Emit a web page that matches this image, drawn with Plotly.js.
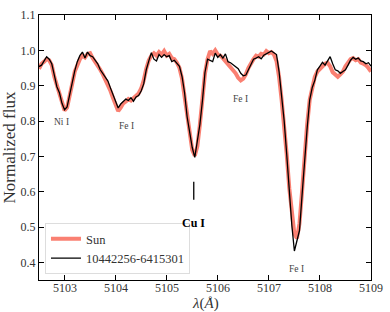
<!DOCTYPE html>
<html>
<head>
<meta charset="utf-8">
<script src="https://cdn.plot.ly/plotly-3.0.1.min.js"></script>
<style>html,body{margin:0;padding:0;background:#fff;}#chart{width:390px;height:312px;}</style>
</head>
<body>
<div id="chart"></div>
<script>
const wavelength = [
5102.50,5102.55,5102.60,5102.65,5102.70,5102.75,5102.80,5102.85,5102.90,5102.95,
5103.00,5103.05,5103.10,5103.15,5103.20,5103.25,5103.30,5103.35,5103.40,5103.45,
5103.50,5103.55,5103.60,5103.65,5103.70,5103.75,5103.80,5103.85,5103.90,5103.95,
5104.00,5104.05,5104.10,5104.15,5104.20,5104.25,5104.30,5104.35,5104.40,5104.45,
5104.50,5104.55,5104.60,5104.65,5104.70,5104.75,5104.80,5104.85,5104.90,5104.95,
5105.00,5105.05,5105.10,5105.15,5105.20,5105.25,5105.30,5105.35,5105.40,5105.45,
5105.50,5105.55,5105.60,5105.65,5105.70,5105.75,5105.80,5105.85,5105.90,5105.95,
5106.00,5106.05,5106.10,5106.15,5106.20,5106.25,5106.30,5106.35,5106.40,5106.45,
5106.50,5106.55,5106.60,5106.65,5106.70,5106.75,5106.80,5106.85,5106.90,5106.95,
5107.00,5107.05,5107.10,5107.15,5107.20,5107.25,5107.30,5107.35,5107.40,5107.45,
5107.50,5107.55,5107.60,5107.65,5107.70,5107.75,5107.80,5107.85,5107.90,5107.95,
5108.00,5108.05,5108.10,5108.15,5108.20,5108.25,5108.30,5108.35,5108.40,5108.45,
5108.50,5108.55,5108.60,5108.65,5108.70,5108.75,5108.80,5108.85,5108.90,5108.95,
5109.00];

const sunFlux = [
0.948,0.962,0.968,0.975,0.972,0.958,0.925,0.900,0.872,0.845,
0.830,0.838,0.868,0.905,0.940,0.962,0.975,0.985,0.980,0.990,
0.992,0.978,0.968,0.955,0.945,0.932,0.918,0.905,0.885,0.865,
0.845,0.828,0.838,0.850,0.855,0.862,0.858,0.865,0.870,0.878,
0.892,0.915,0.948,0.972,0.985,0.992,0.985,0.995,0.988,0.998,
0.985,0.990,0.978,0.975,0.965,0.950,0.920,0.870,0.812,0.760,
0.718,0.702,0.728,0.790,0.865,0.935,0.975,0.998,0.990,1.000,
0.988,0.985,0.978,0.970,0.960,0.952,0.945,0.935,0.922,0.915,
0.920,0.932,0.950,0.965,0.975,0.985,0.982,0.990,0.988,0.998,
0.992,0.995,0.988,0.970,0.925,0.860,0.790,0.705,0.610,0.530,
0.480,0.468,0.510,0.600,0.700,0.790,0.860,0.900,0.925,0.940,
0.948,0.955,0.962,0.965,0.955,0.938,0.930,0.925,0.932,0.940,
0.955,0.965,0.975,0.978,0.972,0.975,0.965,0.962,0.958,0.950,
0.940];

const starFlux = [
0.954,0.958,0.970,0.982,0.975,0.962,0.930,0.897,0.880,0.850,
0.832,0.840,0.874,0.910,0.942,0.968,0.985,0.995,0.978,0.995,
0.985,0.982,0.972,0.962,0.945,0.935,0.925,0.913,0.893,0.876,
0.855,0.837,0.848,0.855,0.862,0.858,0.866,0.856,0.868,0.872,
0.885,0.905,0.945,0.970,0.993,0.975,0.970,0.988,0.980,0.988,
0.982,0.985,0.968,0.972,0.962,0.955,0.926,0.880,0.812,0.765,
0.725,0.697,0.740,0.790,0.858,0.938,0.975,0.972,0.968,0.992,
0.980,0.988,0.978,0.990,0.968,0.965,0.960,0.955,0.948,0.935,
0.928,0.930,0.945,0.962,0.975,0.978,0.982,0.976,0.986,0.990,
0.995,0.998,0.993,0.988,0.940,0.870,0.800,0.705,0.600,0.505,
0.432,0.465,0.490,0.590,0.690,0.780,0.860,0.895,0.915,0.945,
0.955,0.966,0.958,0.970,0.982,0.962,0.945,0.942,0.935,0.940,
0.945,0.958,0.972,0.980,0.975,0.978,0.970,0.968,0.962,0.965,
0.955];

const lineLabels = ['Ni I', 'Fe I', 'Fe I', 'Fe I'];
const lineLabelX = [5102.95, 5104.22, 5106.44, 5107.54];
const lineLabelY = [0.797, 0.786, 0.862, 0.381];
const markText = '<b>Cu I</b>';
const markX = 5105.53;
const markLabelY = 0.512;
const markLineY = [0.577, 0.628];
const xTicks = [5103, 5104, 5105, 5106, 5107, 5108, 5109];
const yTicks = [0.4, 0.5, 0.6, 0.7, 0.8, 0.9, 1.0, 1.1];
const xTitle = '<i>λ</i>(<i>Å</i>)';
const yTitle = 'Normalized flux';

const serif = 'Liberation Serif, Times New Roman, serif';

const traces = [
  {x: wavelength, y: sunFlux, type: 'scatter', mode: 'lines', name: 'Sun',
   line: {color: '#fa8072', width: 4}},
  {x: wavelength, y: starFlux, type: 'scatter', mode: 'lines', name: '10442256-6415301',
   line: {color: '#000000', width: 1.3}},
  {x: [markX, markX], y: markLineY, type: 'scatter', mode: 'lines', showlegend: false,
   line: {color: '#000000', width: 1.3}, hoverinfo: 'skip'}
];

const annotations = lineLabels.map((t, i) => ({
  x: lineLabelX[i], y: lineLabelY[i], xref: 'x', yref: 'y', text: t, showarrow: false,
  font: {family: serif, size: 9.5, color: '#444'}
}));
annotations.push({x: markX, y: markLabelY, xref: 'x', yref: 'y', text: markText, showarrow: false,
  font: {family: serif, size: 12, color: '#000'}});
// x tick labels placed through the x scale, slightly closer to the axis than Plotly's default
xTicks.forEach(v => annotations.push({x: v, y: -0.03, xref: 'x', yref: 'paper', text: String(v),
  showarrow: false, xanchor: 'center', yanchor: 'middle',
  font: {family: serif, size: 12, color: '#333'}}));
annotations.push({x: 0.5, y: -0.087, xref: 'paper', yref: 'paper', text: xTitle, showarrow: false,
  xanchor: 'center', yanchor: 'middle', font: {family: serif, size: 15, color: '#333'}});

const axisCommon = {
  showgrid: false, zeroline: false, showline: true, linecolor: '#000', linewidth: 1.2,
  mirror: 'ticks', ticks: 'inside', ticklen: 5, tickwidth: 1, tickcolor: '#000',
  tickfont: {family: serif, size: 12, color: '#333'}
};

const layout = {
  width: 390, height: 312,
  margin: {l: 39, r: 19, t: 15, b: 32},
  paper_bgcolor: '#fff', plot_bgcolor: '#fff',
  showlegend: true,
  legend: {x: 0.018, y: 0.022, xanchor: 'left', yanchor: 'bottom',
    bgcolor: 'rgba(255,255,255,0.8)', bordercolor: '#ddd', borderwidth: 1,
    font: {family: serif, size: 12.5, color: '#333'}, tracegroupgap: 2},
  xaxis: Object.assign({}, axisCommon, {
    range: [5102.5, 5109], tickvals: xTicks, showticklabels: false
  }),
  yaxis: Object.assign({}, axisCommon, {
    range: [0.35, 1.1], tickvals: yTicks, ticktext: yTicks.map(v => v.toFixed(1)),
    title: {text: yTitle, font: {family: serif, size: 17, color: '#333'}, standoff: 1}
  }),
  annotations: annotations
};

Plotly.newPlot('chart', traces, layout, {displayModeBar: false, staticPlot: true});
</script>
</body>
</html>
